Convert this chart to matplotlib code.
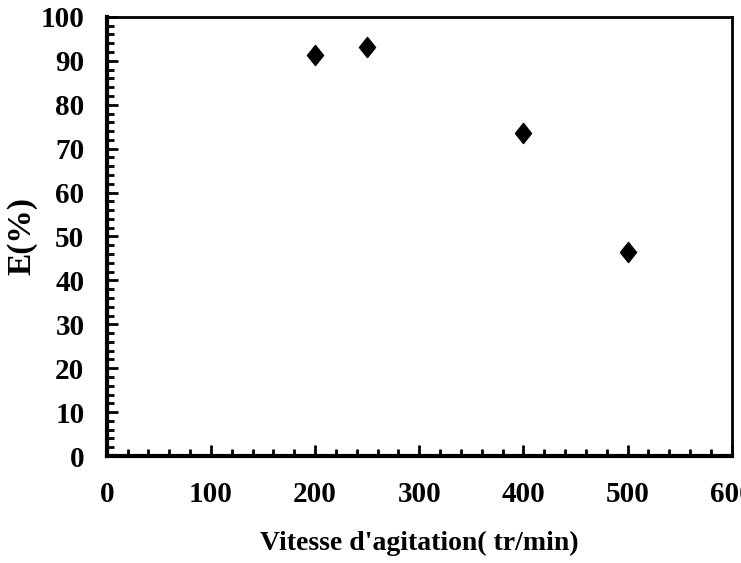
import matplotlib.pyplot as plt
from matplotlib.path import Path
from matplotlib.ticker import MultipleLocator

# Data
vitesse = [200, 250, 400, 500]
extraction = [91.3, 93.2, 73.6, 46.4]
x_ticks = [0, 100, 200, 300, 400, 500, 600]
y_ticks = [0, 10, 20, 30, 40, 50, 60, 70, 80, 90, 100]

plt.rcParams['font.family'] = ['Liberation Serif', 'DejaVu Serif']
plt.rcParams['font.weight'] = 'bold'

fig = plt.figure(figsize=(7.41, 5.63), dpi=100)
ax = fig.add_axes([0.144, 0.19, 0.8435, 0.78])

diamond = Path([(0, 1), (0.8, 0), (0, -1), (-0.8, 0), (0, 1)],
               [Path.MOVETO, Path.LINETO, Path.LINETO, Path.LINETO, Path.CLOSEPOLY])
ax.plot(vitesse, extraction, linestyle='none', marker=diamond,
        markersize=14.5, color='black', clip_on=False)

ax.set_xlim(0, 600)
ax.set_ylim(0, 100)
ax.set_xticks(x_ticks)
ax.set_yticks(y_ticks)
ax.xaxis.set_minor_locator(MultipleLocator(20))
ax.yaxis.set_minor_locator(MultipleLocator(2))

ax.tick_params(which='both', direction='in', top=False, right=False,
               width=2, color='black')
ax.tick_params(which='major', length=8, labelsize=21)
ax.tick_params(which='minor', length=5)
ax.tick_params(axis='x', pad=18)
ax.tick_params(axis='y', pad=16)

for side in ['left', 'bottom']:
    ax.spines[side].set_linewidth(3)
for side in ['top', 'right']:
    ax.spines[side].set_linewidth(2)

ax.set_xlabel("Vitesse d'agitation( tr/min)", fontsize=20, fontweight='bold')
ax.set_ylabel("E(%)", fontsize=24, fontweight='bold')
ax.xaxis.set_label_coords(0.5, -0.17)
ax.yaxis.set_label_coords(-0.111, 0.5)

fig.savefig('out.png', dpi=100)
